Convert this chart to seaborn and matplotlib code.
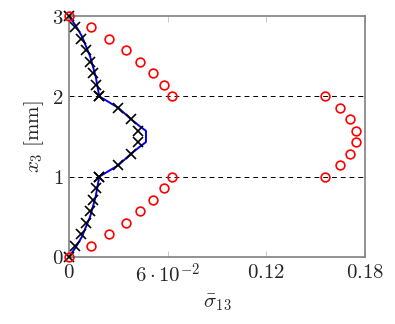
import numpy as np
import seaborn as sns
import matplotlib.pyplot as plt
from matplotlib.ticker import FixedLocator

# through-thickness positions, seven sub-layers per ply
z_bot = [0, 1/7, 2/7, 3/7, 4/7, 5/7, 6/7, 1.0]
z_mid = [1.0, 8/7, 9/7, 10/7, 11/7, 12/7, 13/7, 2.0]
z_top = [2.0, 15/7, 16/7, 17/7, 18/7, 19/7, 20/7, 3.0]

# red circles
circ_bot = [0, 0.0132, 0.0245, 0.0347, 0.0433, 0.0512, 0.0575, 0.0626]
circ_mid = [0.1554, 0.1647, 0.1710, 0.1745, 0.1745, 0.1710, 0.1647, 0.1554]
circ_top = circ_bot[::-1]

# black crosses
cross_bot = [0, 0.0036, 0.0073, 0.0103, 0.0128, 0.0147, 0.0167, 0.0182]
cross_mid = [0.0182, 0.0300, 0.0375, 0.0420, 0.0420, 0.0375, 0.0300, 0.0182]
cross_top = cross_bot[::-1]

# blue reference curve
line_z = [0, 0.125, 0.25, 0.5, 0.75, 1.0, 1.143, 1.286, 1.38, 1.43, 1.57, 1.62,
          1.714, 1.857, 2.0, 2.25, 2.5, 2.75, 2.875, 3.0]
line_x = [0, 0.0042, 0.0078, 0.0128, 0.0162, 0.0184, 0.0300, 0.0378, 0.0435, 0.0468,
          0.0468, 0.0435, 0.0378, 0.0300, 0.0184, 0.0162, 0.0128, 0.0078, 0.0042, 0]

sns.set_theme(style="white")
plt.rcParams['font.family'] = ['DejaVu Serif']
plt.rcParams['mathtext.fontset'] = 'cm'

fig = plt.figure(figsize=(3.95, 3.24), dpi=100)
ax = fig.add_axes([0.1747, 0.2068, 0.7494, 0.7438])

for lvl in [1, 2]:
    ax.axhline(lvl, color="black", linestyle=(0, (5, 4)), linewidth=0.7, zorder=1)

sns.lineplot(x=line_x, y=line_z, sort=False, estimator=None, color="#0000ee",
             linewidth=1.4, ax=ax, zorder=2)

cx = circ_bot + circ_mid + circ_top
cz = z_bot + z_mid + z_top
ax.plot(cx, cz, linestyle="none", marker="o", markersize=6.3, markerfacecolor="none",
        markeredgecolor="red", markeredgewidth=1.2, clip_on=False, zorder=4)

kx = cross_bot + cross_mid + cross_top
kz = z_bot + z_mid + z_top
ax.plot(kx, kz, linestyle="none", marker="x", markersize=6.5, color="black",
        markeredgewidth=1.2, clip_on=False, zorder=3)

ax.set_xlim(0, 0.18)
ax.set_ylim(0, 3)
ax.xaxis.set_major_locator(FixedLocator([0, 0.06, 0.12, 0.18]))
ax.set_xticklabels(["$0$", r"$6\cdot10^{-2}$", "$0.12$", "$0.18$"])
ax.set_yticks([0, 1, 2, 3])
ax.set_yticklabels(["$0$", "$1$", "$2$", "$3$"])
ax.tick_params(axis="both", direction="in", length=4, width=0.6, color="#c0c0c0",
               labelsize=15, pad=4, top=True, right=True, bottom=True, left=True)
for s in ax.spines.values():
    s.set_color("#808080")
    s.set_linewidth(1.2)

ax.set_xlabel(r"$\bar{\sigma}_{13}$", fontsize=15, labelpad=4)
ax.set_ylabel(r"$x_3\ \mathrm{[mm]}$", fontsize=15, labelpad=4)

plt.savefig("out.png", dpi=100)
